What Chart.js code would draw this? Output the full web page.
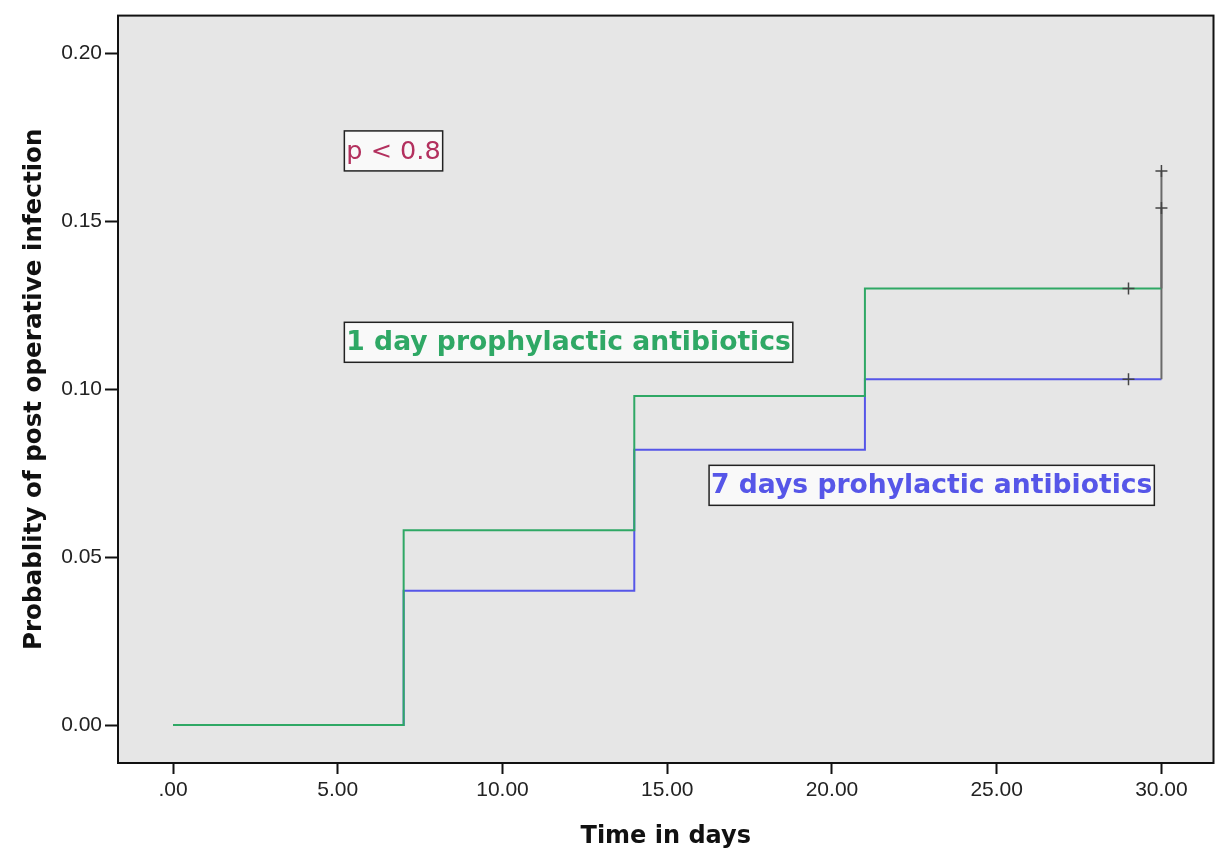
<!DOCTYPE html>
<html>
<head>
<meta charset="utf-8">
<script src="https://cdn.jsdelivr.net/npm/chart.js@4/dist/chart.umd.min.js"></script>
<style>
  body { margin: 0; background: #fff; }
  #wrap { width: 1221px; height: 855px; position: relative; }
</style>
</head>
<body>
<div id="wrap"><canvas id="chart_km"></canvas></div>
<script>
//Data
const stepDays = [0, 7, 14, 21, 30, 30];
const oneDayProb = [0, 0.058, 0.098, 0.130, 0.130, 0.154];
const sevenDaysProb = [0, 0.040, 0.082, 0.103, 0.103, 0.165];
const censorDays = [29, 29, 30, 30];
const censorProb = [0.130, 0.103, 0.154, 0.165];
const xTicks = [0, 5, 10, 15, 20, 25, 30];
const yTicks = [0, 0.05, 0.10, 0.15, 0.20];
const notes = ["p < 0.8", "1 day prophylactic antibiotics", "7 days prohylactic antibiotics"];
const noteDay = [5.2, 5.2, 16.27];
const noteProb = [0.171, 0.114, 0.0714];

const GREEN = '#2fa865';
const BLUE = '#5656e8';
const GREY = '#6a6a6a';

function toPoints(xs, ys){
    return xs.map(function(x, i){ return {x: x, y: ys[i]}; });
}

//last vertical step at day 30 is drawn grey like the original
function lastGrey(ctx){
    return ctx.p0DataIndex === stepDays.length - 2 ? GREY : undefined;
}

//Plot background + frame
const frame = {
    id: 'frame',
    beforeDraw(chart){
        const a = chart.chartArea, c = chart.ctx;
        c.save();
        c.fillStyle = '#e6e6e6';
        c.fillRect(a.left, a.top, a.right - a.left, a.bottom - a.top);
        c.restore();
    },
    afterDraw(chart){
        const a = chart.chartArea, c = chart.ctx;
        c.save();
        c.strokeStyle = '#111';
        c.lineWidth = 2;
        c.strokeRect(a.left, a.top, a.right - a.left, a.bottom - a.top);
        c.restore();
    }
};

//Boxed labels inside the plot
const noteStyles = [
    {color: '#b3305e', font: 'normal 25.5px "DejaVu Sans"'},
    {color: GREEN, font: 'bold 26.6px "DejaVu Sans"'},
    {color: BLUE, font: 'bold 26.6px "DejaVu Sans"'}
];
const boxes = {
    id: 'boxes',
    afterDatasetsDraw(chart){
        const c = chart.ctx, xs = chart.scales.x, ys = chart.scales.y;
        notes.forEach(function(text, i){
            const st = noteStyles[i];
            const x = xs.getPixelForValue(noteDay[i]);
            const y = ys.getPixelForValue(noteProb[i]);
            c.save();
            c.font = st.font;
            const w = c.measureText(text).width + 4;
            const h = 40;
            c.fillStyle = 'rgba(255,255,255,0.75)';
            c.fillRect(x, y - h / 2, w, h);
            c.strokeStyle = '#222';
            c.lineWidth = 1.5;
            c.strokeRect(x, y - h / 2, w, h);
            c.fillStyle = st.color;
            c.textBaseline = 'middle';
            c.fillText(text, x + 2, y + 1);
            c.restore();
        });
    }
};

//first dataset is painted on top, green covers blue like the original
const data = {
    datasets: [
        {
            label: 'censored',
            type: 'scatter',
            data: toPoints(censorDays, censorProb),
            pointStyle: 'cross',
            pointRadius: 6,
            borderColor: '#444',
            borderWidth: 1.5,
            showLine: false,
        },
        {
            label: '1 day',
            data: toPoints(stepDays, oneDayProb),
            borderColor: GREEN,
            borderWidth: 2,
            stepped: 'before',
            pointRadius: 0,
            segment: { borderColor: lastGrey },
        },
        {
            label: '7 days',
            data: toPoints(stepDays, sevenDaysProb),
            borderColor: BLUE,
            borderWidth: 2,
            stepped: 'before',
            pointRadius: 0,
            segment: { borderColor: lastGrey },
        }
    ]
};

const config = {
    type: 'line',
    data: data,
    plugins: [frame, boxes],
    options: {
        responsive: true,
        maintainAspectRatio: false,
        animation: false,
        layout: { padding: { top: 12, right: 6, bottom: 0, left: 0 } },
        scales: {
            x: {
                type: 'linear',
                min: -1.67,
                max: 31.58,
                afterBuildTicks: function(s){ s.ticks = xTicks.map(function(v){ return {value: v}; }); },
                afterFit: function(s){ s.height = 92; },
                ticks: {
                    color: '#222',
                    font: { family: 'Liberation Sans', size: 21 },
                    padding: 4,
                    maxRotation: 0,
                    callback: function(v){ return v === 0 ? '.00' : v.toFixed(2); }
                },
                grid: { drawOnChartArea: false, tickLength: 11, color: '#111', tickWidth: 2 },
                border: { display: true, color: '#111', width: 2 },
                title: {
                    display: true,
                    text: 'Time in days',
                    color: '#111',
                    font: { family: 'DejaVu Sans', size: 24, weight: 'bold' },
                    padding: { bottom: 4 }
                }
            },
            y: {
                min: -0.0113,
                max: 0.2113,
                afterBuildTicks: function(s){ s.ticks = yTicks.map(function(v){ return {value: v}; }); },
                afterFit: function(s){ s.width = 118; },
                ticks: {
                    color: '#222',
                    font: { family: 'Liberation Sans', size: 21 },
                    padding: 3,
                    callback: function(v){ return v.toFixed(2); }
                },
                grid: { drawOnChartArea: false, tickLength: 13, color: '#111', tickWidth: 2 },
                border: { display: true, color: '#111', width: 2 },
                title: {
                    display: true,
                    text: 'Probablity of post operative infection',
                    color: '#111',
                    font: { family: 'DejaVu Sans', size: 24.6, weight: 'bold' },
                    padding: { top: 20 }
                }
            }
        },
        plugins: {
            legend: { display: false },
            tooltip: { enabled: false }
        }
    }
};

new Chart(document.getElementById('chart_km').getContext('2d'), config);
</script>
</body>
</html>
